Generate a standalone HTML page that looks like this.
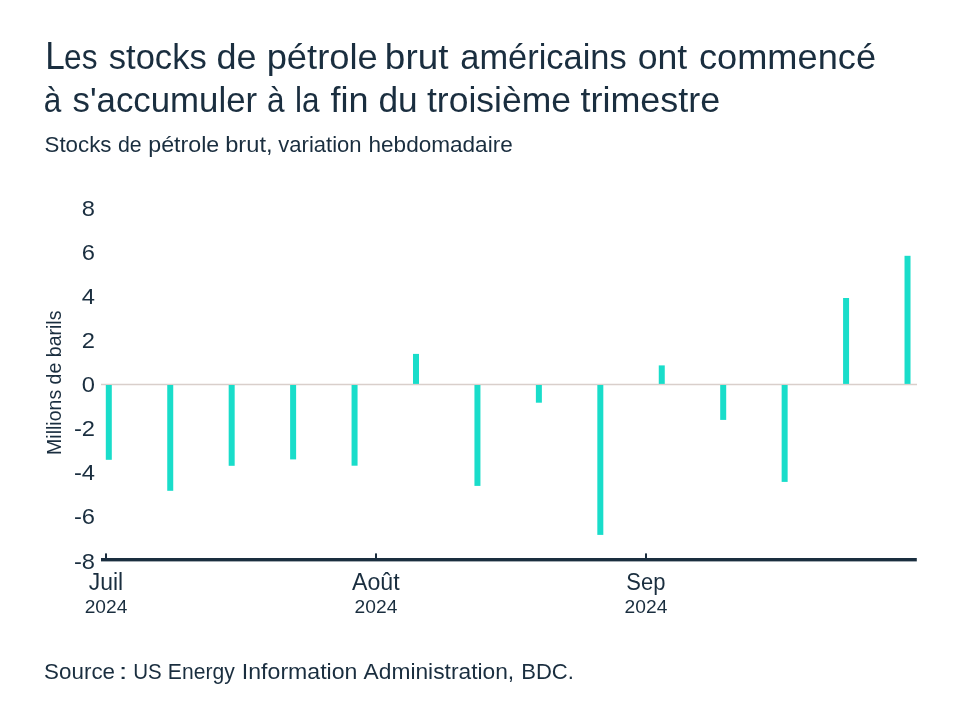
<!DOCTYPE html>
<html><head><meta charset="utf-8"><style>
html,body{margin:0;padding:0;background:#fff;}
body{width:960px;height:720px;overflow:hidden;position:relative;font-family:"Liberation Sans",sans-serif;}
svg{position:absolute;left:0;top:0;will-change:transform;}
text{font-family:"Liberation Sans",sans-serif;fill:#1a2e3f;}
</style></head><body>
<svg width="960" height="720" viewBox="0 0 960 720">

<text x="45.23" y="69.0" font-size="38" textLength="19.52" lengthAdjust="spacingAndGlyphs">L</text>
<text x="64.10" y="69.0" font-size="35" textLength="33.35" lengthAdjust="spacingAndGlyphs">es</text>
<text x="108.75" y="69.0" font-size="35" textLength="97.99" lengthAdjust="spacingAndGlyphs">stocks</text>
<text x="216.47" y="69.0" font-size="35" textLength="40.04" lengthAdjust="spacingAndGlyphs">de</text>
<text x="266.67" y="69.0" font-size="35" textLength="111.10" lengthAdjust="spacingAndGlyphs">pétrole</text>
<text x="384.89" y="69.0" font-size="35" textLength="63.57" lengthAdjust="spacingAndGlyphs">brut</text>
<text x="460.27" y="69.0" font-size="35" textLength="166.48" lengthAdjust="spacingAndGlyphs">américains</text>
<text x="637.73" y="69.0" font-size="35" textLength="49.49" lengthAdjust="spacingAndGlyphs">ont</text>
<text x="698.97" y="69.0" font-size="35" textLength="177.05" lengthAdjust="spacingAndGlyphs">commencé</text>
<text x="43.85" y="112.0" font-size="35" textLength="17.52" lengthAdjust="spacingAndGlyphs">à</text>
<text x="72.50" y="112.0" font-size="35" textLength="184.66" lengthAdjust="spacingAndGlyphs">s'accumuler</text>
<text x="267.07" y="112.0" font-size="35" textLength="17.52" lengthAdjust="spacingAndGlyphs">à</text>
<text x="295.10" y="112.0" font-size="35" textLength="24.52" lengthAdjust="spacingAndGlyphs">la</text>
<text x="330.50" y="112.0" font-size="35" textLength="38.01" lengthAdjust="spacingAndGlyphs">fin</text>
<text x="378.49" y="112.0" font-size="35" textLength="39.23" lengthAdjust="spacingAndGlyphs">du</text>
<text x="427.00" y="112.0" font-size="35" textLength="143.99" lengthAdjust="spacingAndGlyphs">troisième</text>
<text x="580.50" y="112.0" font-size="35" textLength="139.75" lengthAdjust="spacingAndGlyphs">trimestre</text>
<text x="44.51" y="151.6" font-size="22.5" textLength="66.99" lengthAdjust="spacingAndGlyphs">Stocks</text>
<text x="118.00" y="151.6" font-size="22.5" textLength="23.74" lengthAdjust="spacingAndGlyphs">de</text>
<text x="148.22" y="151.6" font-size="22.5" textLength="71.06" lengthAdjust="spacingAndGlyphs">pétrole</text>
<text x="225.20" y="151.6" font-size="22.5" textLength="47.37" lengthAdjust="spacingAndGlyphs">brut,</text>
<text x="278.30" y="151.6" font-size="22.5" textLength="83.30" lengthAdjust="spacingAndGlyphs">variation</text>
<text x="368.50" y="151.6" font-size="22.5" textLength="144.22" lengthAdjust="spacingAndGlyphs">hebdomadaire</text>
<text x="88.80" y="589.8" font-size="23" textLength="34.41" lengthAdjust="spacingAndGlyphs">Juil</text>
<text x="352.00" y="589.8" font-size="23" textLength="47.59" lengthAdjust="spacingAndGlyphs">Août</text>
<text x="626.34" y="589.8" font-size="23" textLength="39.11" lengthAdjust="spacingAndGlyphs">Sep</text>
<text x="84.70" y="613.2" font-size="19" textLength="42.66" lengthAdjust="spacingAndGlyphs">2024</text>
<text x="354.60" y="613.2" font-size="19" textLength="42.76" lengthAdjust="spacingAndGlyphs">2024</text>
<text x="624.60" y="613.2" font-size="19" textLength="42.76" lengthAdjust="spacingAndGlyphs">2024</text>
<text x="44.11" y="678.8" font-size="22.5" textLength="70.91" lengthAdjust="spacingAndGlyphs">Source</text>
<text x="118.80" y="678.8" font-size="22.5" textLength="8.75" lengthAdjust="spacingAndGlyphs">:</text>
<text x="133.29" y="678.8" font-size="22.5" textLength="28.53" lengthAdjust="spacingAndGlyphs">US</text>
<text x="167.86" y="678.8" font-size="22.5" textLength="66.83" lengthAdjust="spacingAndGlyphs">Energy</text>
<text x="241.85" y="678.8" font-size="22.5" textLength="115.58" lengthAdjust="spacingAndGlyphs">Information</text>
<text x="363.60" y="678.8" font-size="22.5" textLength="150.57" lengthAdjust="spacingAndGlyphs">Administration,</text>
<text x="521.22" y="678.8" font-size="22.5" textLength="52.71" lengthAdjust="spacingAndGlyphs">BDC.</text>
<text x="95" y="216.4" font-size="22.6" text-anchor="end" transform="translate(95,0) scale(1.05,1) translate(-95,0)">8</text>
<text x="95" y="260.4" font-size="22.6" text-anchor="end" transform="translate(95,0) scale(1.05,1) translate(-95,0)">6</text>
<text x="95" y="304.4" font-size="22.6" text-anchor="end" transform="translate(95,0) scale(1.05,1) translate(-95,0)">4</text>
<text x="95" y="348.4" font-size="22.6" text-anchor="end" transform="translate(95,0) scale(1.05,1) translate(-95,0)">2</text>
<text x="95" y="392.4" font-size="22.6" text-anchor="end" transform="translate(95,0) scale(1.05,1) translate(-95,0)">0</text>
<text x="95" y="436.4" font-size="22.6" text-anchor="end" transform="translate(95,0) scale(1.05,1) translate(-95,0)">-2</text>
<text x="95" y="480.4" font-size="22.6" text-anchor="end" transform="translate(95,0) scale(1.05,1) translate(-95,0)">-4</text>
<text x="95" y="524.4" font-size="22.6" text-anchor="end" transform="translate(95,0) scale(1.05,1) translate(-95,0)">-6</text>
<text x="95" y="569.0" font-size="22.6" text-anchor="end" transform="translate(95,0) scale(1.05,1) translate(-95,0)">-8</text>
<text transform="translate(61,455) rotate(-90)" x="0" y="0" font-size="21" textLength="144.5" lengthAdjust="spacingAndGlyphs">Millions de barils</text>
<rect x="101" y="383.75" width="816" height="1.5" fill="#d9cfcb"/>
<rect x="105.80" y="385.00" width="6" height="74.80" fill="#19ddca"/>
<rect x="167.24" y="385.00" width="6" height="105.80" fill="#19ddca"/>
<rect x="228.68" y="385.00" width="6" height="80.80" fill="#19ddca"/>
<rect x="290.12" y="385.00" width="6" height="74.40" fill="#19ddca"/>
<rect x="351.56" y="385.00" width="6" height="80.70" fill="#19ddca"/>
<rect x="413.00" y="353.90" width="6" height="30.00" fill="#19ddca"/>
<rect x="474.44" y="385.00" width="6" height="100.90" fill="#19ddca"/>
<rect x="535.88" y="385.00" width="6" height="17.70" fill="#19ddca"/>
<rect x="597.32" y="385.00" width="6" height="149.90" fill="#19ddca"/>
<rect x="658.76" y="365.40" width="6" height="18.50" fill="#19ddca"/>
<rect x="720.20" y="385.00" width="6" height="34.90" fill="#19ddca"/>
<rect x="781.64" y="385.00" width="6" height="96.90" fill="#19ddca"/>
<rect x="843.08" y="298.00" width="6" height="85.90" fill="#19ddca"/>
<rect x="904.52" y="255.80" width="6" height="128.10" fill="#19ddca"/>
<rect x="101" y="558" width="815.8" height="3.4" fill="#1a2e3f"/>
<rect x="105" y="553.4" width="2" height="5.6" fill="#1a2e3f"/>
<rect x="375" y="553.4" width="2" height="5.6" fill="#1a2e3f"/>
<rect x="645" y="553.4" width="2" height="5.6" fill="#1a2e3f"/>
</svg></body></html>
